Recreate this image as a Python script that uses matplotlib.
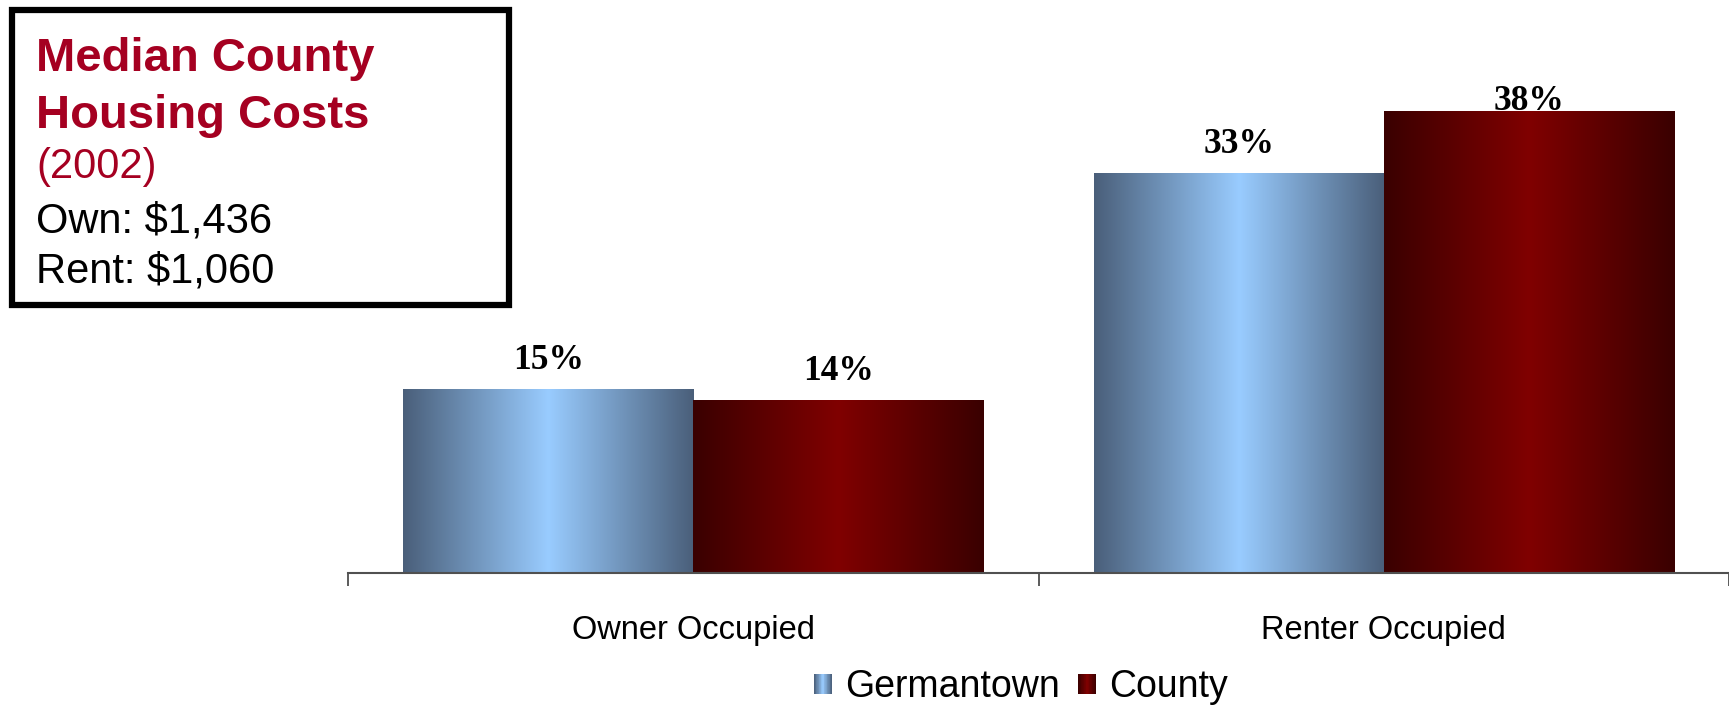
import numpy as np
import matplotlib
matplotlib.use("Agg")
import matplotlib.pyplot as plt
from matplotlib.colors import LinearSegmentedColormap
from matplotlib.patches import Rectangle
from matplotlib.legend_handler import HandlerBase

# data
categories = ["Owner Occupied", "Renter Occupied"]
series_names = ["Germantown", "County"]
germantown = [15.1, 32.9]
county = [14.2, 38.0]
box_year = "(2002)"
box_lines = ["Own: $1,436", "Rent: $1,060"]

plt.rcParams["font.family"] = ["Liberation Sans", "DejaVu Sans"]

cm_blue = LinearSegmentedColormap.from_list("g", ["#4a5f7a", "#99ccff", "#4a5f7a"])
cm_red = LinearSegmentedColormap.from_list("c", ["#3a0000", "#800000", "#3a0000"])
grad = np.linspace(0, 1, 256).reshape(1, -1)

fig = plt.figure(figsize=(17.29, 7.10), dpi=100)
ax = fig.add_axes([348 / 1729, 137 / 710, 1381 / 1729, 486 / 710])

w = 0.42
x = np.arange(len(categories))
for vals, cmap, off in [(germantown, cm_blue, -w / 2), (county, cm_red, w / 2)]:
    for xi, v in zip(x, vals):
        x0 = xi + off - w / 2
        ax.imshow(grad, cmap=cmap, aspect="auto", extent=[x0, x0 + w, 0, v],
                  interpolation="bilinear", zorder=2)
        ly = min(v + 1.65, 38.1)
        ax.text(xi + off, ly, f"{round(v)}%", ha="center", va="baseline",
                fontsize=25.5, fontweight="bold", family="Liberation Serif", zorder=3)
ax.set_xlim(-0.5, 1.5)
ax.set_ylim(0, 40)

for s in ["left", "right", "top"]:
    ax.spines[s].set_visible(False)
ax.spines["bottom"].set_color("#505050")
ax.spines["bottom"].set_linewidth(1.5)
ax.set_yticks([])
ax.set_xticks(x)
ax.set_xticklabels(categories, fontsize=23.5)
ax.tick_params(axis="x", which="major", length=0, pad=30)
ax.set_xticks([-0.5, 0.5, 1.5], minor=True)
ax.tick_params(axis="x", which="minor", length=9, width=1.2, color="#404040")


class GradHandler(HandlerBase):
    def __init__(self, cmap):
        super().__init__()
        self.cmap = cmap

    def create_artists(self, legend, orig_handle, xdescent, ydescent, width, height, fontsize, trans):
        n = 24
        arts = []
        for i in range(n):
            r = Rectangle((-xdescent + width * i / n, -ydescent), width / n + 0.3, height,
                          facecolor=self.cmap((i + 0.5) / n), edgecolor="none", transform=trans)
            arts.append(r)
        return arts


handles = [Rectangle((0, 0), 1, 1) for _ in series_names]
leg = fig.legend(handles, series_names, loc="center", bbox_to_anchor=(1021 / 1729, 0.032),
                 ncol=2, frameon=False, fontsize=27, handlelength=0.47, handleheight=0.47,
                 handletextpad=0.35, columnspacing=0.5, borderpad=0,
                 handler_map={handles[0]: GradHandler(cm_blue), handles[1]: GradHandler(cm_red)})

# text box top-left
fig.patches.append(Rectangle((12 / 1729, 1 - 305 / 710), 497 / 1729, 295 / 710,
                             transform=fig.transFigure, facecolor="white",
                             edgecolor="black", linewidth=4.5, zorder=5))
red = "#a50021"
fig.text(36 / 1729, 1 - 71 / 710, "Median County", fontsize=34, fontweight="bold",
         color=red, va="baseline", zorder=6)
fig.text(36 / 1729, 1 - 128 / 710, "Housing Costs", fontsize=34, fontweight="bold",
         color=red, va="baseline", zorder=6)
fig.text(36 / 1729, 1 - 178 / 710, box_year, fontsize=30, color=red, va="baseline", zorder=6)
for yy, t in zip([232, 283], box_lines):
    fig.text(36 / 1729, 1 - yy / 710, t, fontsize=30, color="black", va="baseline", zorder=6)

fig.savefig("out.png", dpi=100, facecolor="white")
